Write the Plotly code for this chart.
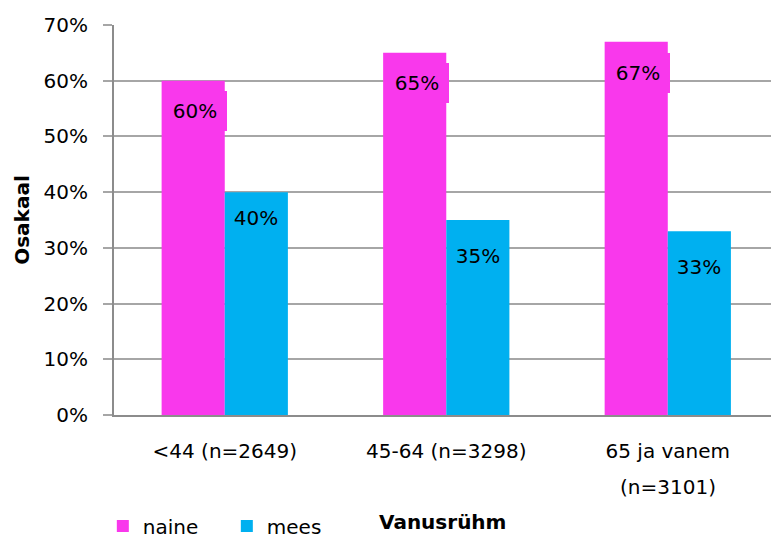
import plotly.graph_objects as go

# Age groups (second line of a label sits under the first)
categories = ["<44 (n=2649)", "45-64 (n=3298)", "65 ja vanem\n(n=3101)"]
naine = [60, 65, 67]
mees = [40, 35, 33]
y_ticks = [0, 10, 20, 30, 40, 50, 60, 70]

PINK = "#F938EC"
BLUE = "#00B0F0"
FONT = "DejaVu Sans"
FS = 20

x = list(range(len(categories)))
first_lines = [c.split("\n")[0] for c in categories]

fig = go.Figure()
fig.add_trace(go.Bar(name="naine", x=x, y=naine, marker=dict(color=PINK, line=dict(width=0))))
fig.add_trace(go.Bar(name="mees", x=x, y=mees, marker=dict(color=BLUE, line=dict(width=0))))

# Value labels inside the bars, boxed in the bar colour
half = 0.1425
label_drop_naine = [-30, -30, -31]
label_drop_mees = [-26, -36, -36]
for i in x:
    for val, off, col, drop, w, xs in ((naine[i], -half, PINK, label_drop_naine[i], 50, 2),
                                       (mees[i], half, BLUE, label_drop_mees[i], 44, 0)):
        fig.add_annotation(x=i + off, y=val, xref="x", yref="y", text=f"{val}%",
                           showarrow=False, yshift=drop, xshift=xs,
                           bgcolor=col, borderpad=7, borderwidth=0, width=w, height=26,
                           font=dict(family=FONT, size=FS, color="black"))

# Second line of multi-line category labels
for i, c in enumerate(categories):
    parts = c.split("\n")
    if len(parts) > 1:
        fig.add_annotation(x=i, y=0, xref="x", yref="y", text=parts[1], showarrow=False,
                           yanchor="middle", yshift=-72,
                           font=dict(family=FONT, size=FS, color="black"))

# x-axis title below the category labels
fig.add_annotation(x=0.5, y=-0.2744, xref="paper", yref="paper",
                   text="<b>Vanusrühm</b>", showarrow=False, yanchor="middle",
                   font=dict(family=FONT, size=FS, color="black"))

fig.update_layout(
    width=771, height=538,
    margin=dict(l=114, r=0, t=25, b=123, autoexpand=False),
    paper_bgcolor="white", plot_bgcolor="white",
    barmode="group", bargap=0.43, bargroupgap=0,
    font=dict(family=FONT, size=FS, color="black"),
    showlegend=True,
    legend=dict(orientation="h", x=-0.017, xanchor="left", y=-0.2846, yanchor="middle",
                font=dict(family=FONT, size=FS), entrywidth=79, entrywidthmode="pixels",
                bgcolor="rgba(0,0,0,0)"),
    xaxis=dict(
        tickmode="array", tickvals=x, ticktext=first_lines,
        range=[-0.5, 2.466], showgrid=False, zeroline=False,
        showline=True, linecolor="#8c8c8c", linewidth=2,
        ticks="", ticklabelstandoff=17,
    ),
    yaxis=dict(
        range=[0, 70], tickmode="array", tickvals=y_ticks,
        ticktext=[f"{v}%" for v in y_ticks],
        showgrid=True, gridcolor="#a6a6a6", gridwidth=1.5, zeroline=False,
        showline=True, linecolor="#8c8c8c", linewidth=2,
        ticks="outside", ticklen=9, tickcolor="#a6a6a6", tickwidth=1.5,
        ticklabelstandoff=11,
        title=dict(text="<b>Osakaal</b>", font=dict(family=FONT, size=FS), standoff=9),
    ),
)

fig.write_html("out.html")
